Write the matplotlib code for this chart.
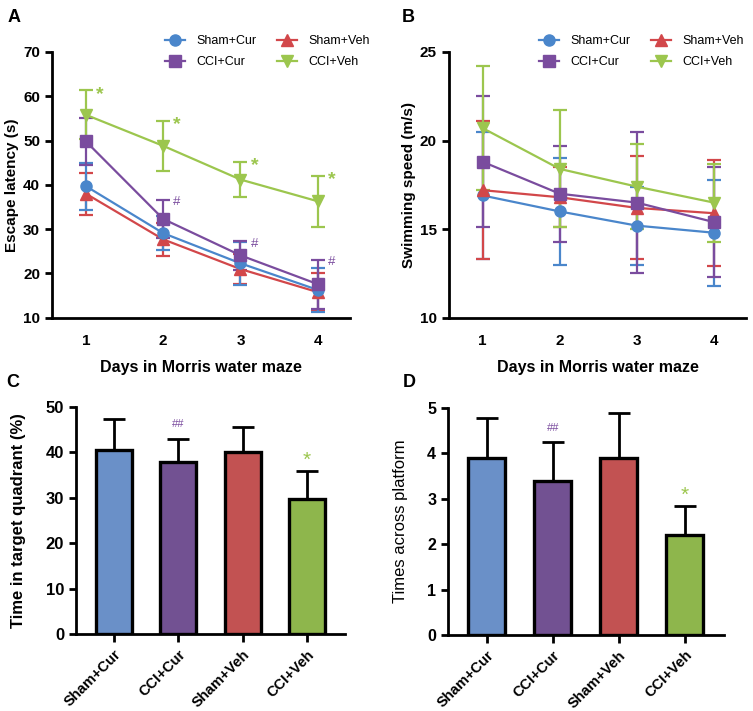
import numpy as np
import matplotlib
matplotlib.use("Agg")
import matplotlib.pyplot as plt
from matplotlib.lines import Line2D

plt.rcParams["font.family"] = ["Liberation Sans", "DejaVu Sans"]

DAYS = [1, 2, 3, 4]
GROUPS = ["Sham+Cur", "CCI+Cur", "Sham+Veh", "CCI+Veh"]

# Panel A: escape latency (s), mean and SD per day
LAT_SHAM_CUR = [39.7, 29.1, 22.3, 16.3]
LAT_SHAM_CUR_SD = [5.3, 3.8, 4.8, 5.0]
LAT_SHAM_VEH = [38.0, 27.7, 21.0, 15.8]
LAT_SHAM_VEH_SD = [4.7, 3.7, 3.3, 4.2]
LAT_CCI_CUR = [49.8, 32.3, 24.1, 17.6]
LAT_CCI_CUR_SD = [5.3, 4.3, 3.2, 5.5]
LAT_CCI_VEH = [55.8, 48.8, 41.2, 36.3]
LAT_CCI_VEH_SD = [5.5, 5.7, 4.0, 5.7]

# Panel B: swimming speed (m/s)
SPD_SHAM_CUR = [16.9, 16.0, 15.2, 14.8]
SPD_SHAM_CUR_SD = [3.6, 3.0, 2.2, 3.0]
SPD_SHAM_VEH = [17.2, 16.8, 16.2, 15.9]
SPD_SHAM_VEH_SD = [3.9, 1.7, 2.9, 3.0]
SPD_CCI_CUR = [18.8, 17.0, 16.5, 15.4]
SPD_CCI_CUR_SD = [3.7, 2.7, 4.0, 3.1]
SPD_CCI_VEH = [20.7, 18.4, 17.4, 16.5]
SPD_CCI_VEH_SD = [3.5, 3.3, 2.4, 2.2]

# Panel C: time in target quadrant (%)
QUAD = [40.5, 37.8, 40.0, 29.7]
QUAD_SD = [6.7, 5.2, 5.6, 6.2]

# Panel D: times across platform
CROSS = [3.9, 3.4, 3.9, 2.2]
CROSS_SD = [0.88, 0.85, 1.0, 0.65]

LINE_COLORS = {"Sham+Cur": "#4A86CB", "Sham+Veh": "#D2474A",
               "CCI+Cur": "#7A4C9E", "CCI+Veh": "#9CC64E"}
BAR_COLORS = ["#6A90C8", "#725192", "#C25252", "#8EB64C"]
MARKERS = {"Sham+Cur": "o", "Sham+Veh": "^", "CCI+Cur": "s", "CCI+Veh": "v"}

fig = plt.figure(figsize=(7.53, 7.11), dpi=100)


def style_axis(ax, size):
    for s in ["top", "right"]:
        ax.spines[s].set_visible(False)
    for s in ["left", "bottom"]:
        ax.spines[s].set_linewidth(2.0)
    ax.tick_params(width=2.0, length=5, labelsize=size)
    for lbl in ax.get_xticklabels() + ax.get_yticklabels():
        lbl.set_fontweight("bold")


def line_panel(ax, series, ylim, yticks, ylabel, legend_x):
    for name, vals, sd in series:
        c = LINE_COLORS[name]
        ax.errorbar(DAYS, vals, yerr=sd, color=c, marker=MARKERS[name],
                    markersize=8, linewidth=1.6, elinewidth=1.6,
                    capsize=5, capthick=1.6, zorder=3)
    ax.set_xlim(0.56, 4.42)
    ax.set_ylim(*ylim)
    ax.set_yticks(yticks)
    ax.set_xticks(DAYS)
    ax.set_ylabel(ylabel, fontsize=11, fontweight="bold", labelpad=3)
    ax.set_xlabel("Days in Morris water maze", fontsize=11.5, fontweight="bold", labelpad=8)
    style_axis(ax, 11)
    ax.tick_params(axis="x", length=0, pad=12)
    handles = [Line2D([], [], color=LINE_COLORS[n], marker=MARKERS[n], markersize=8,
                      linewidth=1.6) for n in GROUPS]
    ax.legend(handles, GROUPS, ncol=2, frameon=False, fontsize=9,
              loc="lower right", bbox_to_anchor=(legend_x, 0.92), handlelength=1.6,
              handletextpad=0.9, columnspacing=1.7, labelspacing=0.7, borderaxespad=0)


def bar_panel(ax, vals, sd, ylim, yticks, ylabel, weight, size):
    x = np.arange(len(GROUPS))
    ax.bar(x, vals, width=0.56, color=BAR_COLORS, edgecolor="black", linewidth=2.4, zorder=2)
    ax.errorbar(x, vals, yerr=[np.zeros(len(sd)), sd], fmt="none", ecolor="black",
                elinewidth=2.0, capsize=8, capthick=2.0, zorder=1)
    ax.set_xlim(-0.59, 3.59)
    ax.set_ylim(*ylim)
    ax.set_yticks(yticks)
    ax.set_xticks(x)
    ax.set_xticklabels(GROUPS, rotation=45, ha="right", rotation_mode="anchor")
    ax.set_ylabel(ylabel, fontsize=12, fontweight=weight, labelpad=14)
    style_axis(ax, size)
    ax.tick_params(axis="x", length=6, labelsize=10.5)


# ---- Panel A
axA = fig.add_axes([0.069, 0.553, 0.396, 0.374])
line_panel(axA, [("Sham+Veh", LAT_SHAM_VEH, LAT_SHAM_VEH_SD),
                 ("Sham+Cur", LAT_SHAM_CUR, LAT_SHAM_CUR_SD),
                 ("CCI+Cur", LAT_CCI_CUR, LAT_CCI_CUR_SD),
                 ("CCI+Veh", LAT_CCI_VEH, LAT_CCI_VEH_SD)],
           (10, 70), [10, 20, 30, 40, 50, 60, 70], "Escape latency (s)", 1.084)
for d, v, s in zip(DAYS, LAT_CCI_VEH, LAT_CCI_VEH_SD):
    axA.annotate("*", (d, v + s), xytext=(10, -6), textcoords="offset points",
                 color=LINE_COLORS["CCI+Veh"], fontsize=14, fontweight="bold", ha="center")
for d, v, s in list(zip(DAYS, LAT_CCI_CUR, LAT_CCI_CUR_SD))[1:]:
    axA.annotate("#", (d, v + s), xytext=(10, -4), textcoords="offset points",
                 color=LINE_COLORS["CCI+Cur"], fontsize=9.5, ha="center")

# ---- Panel B
axB = fig.add_axes([0.596, 0.553, 0.395, 0.374])
line_panel(axB, [("Sham+Cur", SPD_SHAM_CUR, SPD_SHAM_CUR_SD),
                 ("Sham+Veh", SPD_SHAM_VEH, SPD_SHAM_VEH_SD),
                 ("CCI+Cur", SPD_CCI_CUR, SPD_CCI_CUR_SD),
                 ("CCI+Veh", SPD_CCI_VEH, SPD_CCI_VEH_SD)],
           (10, 25), [10, 15, 20, 25], "Swimming speed (m/s)", 1.01)

# ---- Panel C
axC = fig.add_axes([0.101, 0.108, 0.357, 0.320])
bar_panel(axC, QUAD, QUAD_SD, (0, 50), [0, 10, 20, 30, 40, 50],
          "Time in target quadrant (%)", "bold", 12)
axC.text(1, QUAD[1] + QUAD_SD[1] + 2.5, "##", color=LINE_COLORS["CCI+Cur"], fontsize=8, ha="center")
axC.text(3, QUAD[3] + QUAD_SD[3] + 1.0, "*", color=LINE_COLORS["CCI+Veh"], fontsize=15, ha="center")

# ---- Panel D
axD = fig.add_axes([0.595, 0.107, 0.366, 0.319])
bar_panel(axD, CROSS, CROSS_SD, (0, 5), [0, 1, 2, 3, 4, 5],
          "Times across platform", "normal", 11.5)
axD.text(1, CROSS[1] + CROSS_SD[1] + 0.25, "##", color=LINE_COLORS["CCI+Cur"], fontsize=8, ha="center")
axD.text(3, CROSS[3] + CROSS_SD[3] + 0.1, "*", color=LINE_COLORS["CCI+Veh"], fontsize=15, ha="center")

# panel letters
for lbl, x, y in [("A", 0.010, 0.976), ("B", 0.533, 0.976), ("C", 0.008, 0.462), ("D", 0.535, 0.462)]:
    fig.text(x, y, lbl, fontsize=13, fontweight="bold", va="center")

fig.savefig("out.png", dpi=100)
